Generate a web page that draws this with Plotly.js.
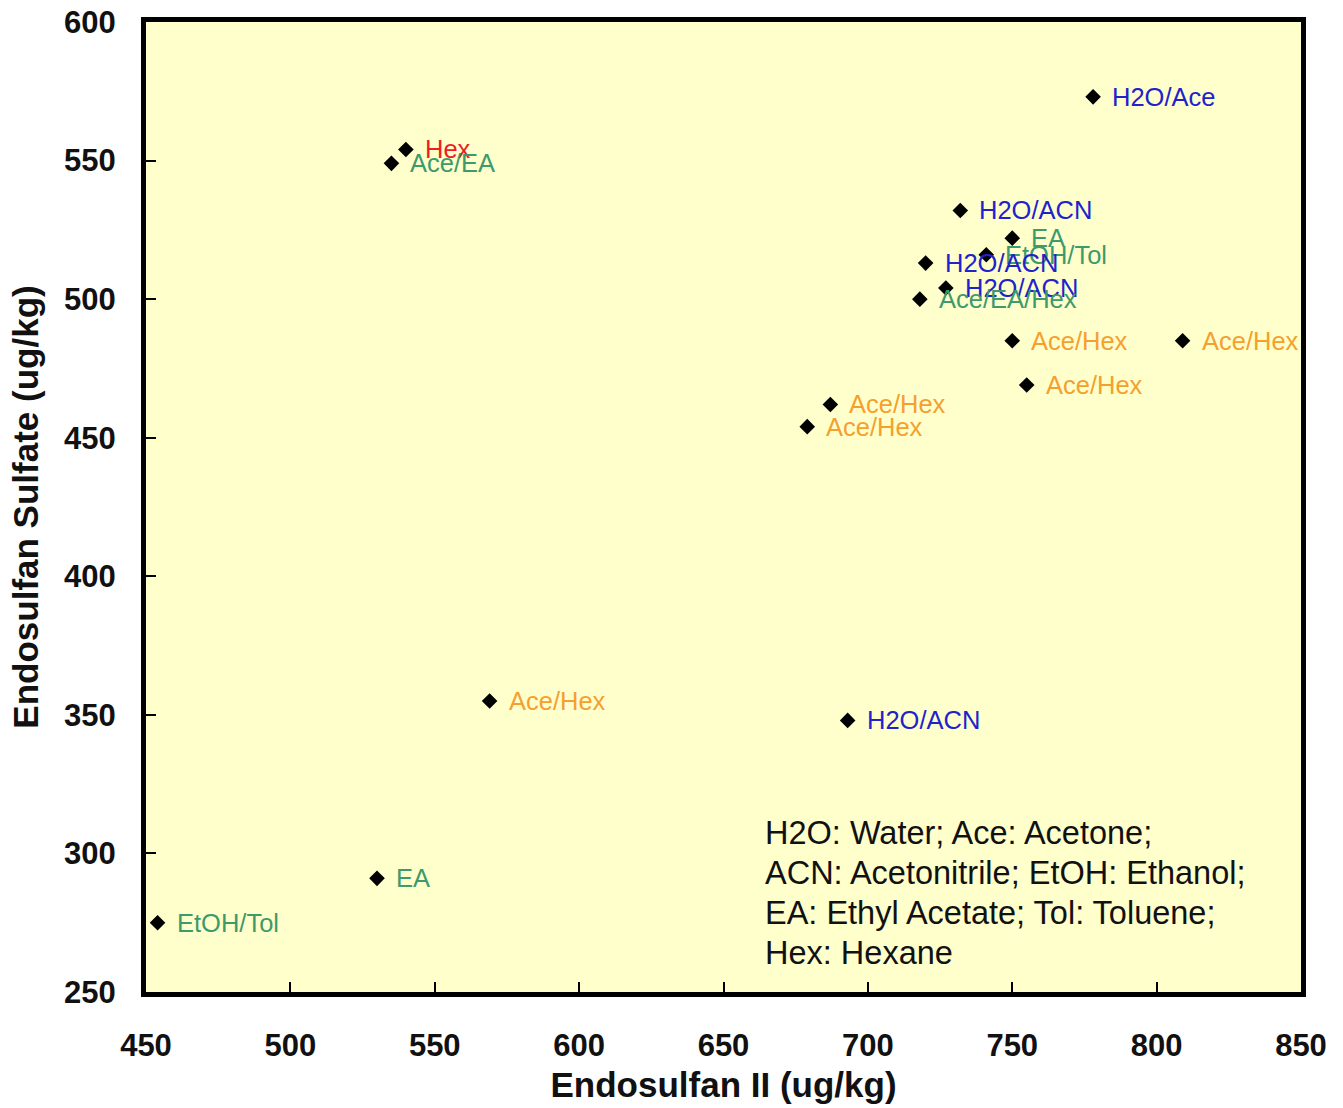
<!DOCTYPE html>
<html>
<head>
<meta charset="utf-8">
<script src="https://cdn.plot.ly/plotly-3.0.1.min.js"></script>
<style>html,body{margin:0;padding:0;background:#fff;}#chart{width:1343px;height:1108px;}</style>
</head>
<body>
<div id="chart"></div>
<script>
// Data
const endosulfanII = [778, 540, 535, 732, 750, 741, 720, 727, 718, 750, 809, 755, 687, 679, 569, 693, 530, 454];
const endosulfanSulfate = [573, 554, 549, 532, 522, 516, 513, 504, 500, 485, 485, 469, 462, 454, 355, 348, 291, 275];
const solventLabels = ["H2O/Ace", "Hex", "Ace/EA", "H2O/ACN", "EA", "EtOH/Tol", "H2O/ACN", "H2O/ACN", "Ace/EA/Hex",
  "Ace/Hex", "Ace/Hex", "Ace/Hex", "Ace/Hex", "Ace/Hex", "Ace/Hex", "H2O/ACN", "EA", "EtOH/Tol"];
const solventGroup = ["water", "hexane", "organic", "water", "organic", "organic", "water", "water", "organic",
  "acehex", "acehex", "acehex", "acehex", "acehex", "acehex", "water", "organic", "organic"];
const groupColors = {water: "#2222cc", hexane: "#ee1c25", organic: "#3c9a6c", acehex: "#f5a02e"};
const xTicks = [450, 500, 550, 600, 650, 700, 750, 800, 850];
const yTicks = [250, 300, 350, 400, 450, 500, 550, 600];
const footnoteLines = [
  "H2O: Water; Ace: Acetone;",
  "ACN: Acetonitrile; EtOH: Ethanol;",
  "EA: Ethyl Acetate; Tol: Toluene;",
  "Hex: Hexane"
];

const font = "Liberation Sans, Arial, sans-serif";

const trace = {
  x: endosulfanII,
  y: endosulfanSulfate,
  type: "scatter",
  mode: "markers",
  marker: {symbol: "diamond", size: 12, color: "#000"},
  hoverinfo: "x+y",
  showlegend: false
};

const annotations = endosulfanII.map((x, i) => ({
  x: x, y: endosulfanSulfate[i], xref: "x", yref: "y",
  text: solventLabels[i], showarrow: false,
  xanchor: "left", yanchor: "middle", xshift: 17,
  font: {family: font, size: 25.5, color: groupColors[solventGroup[i]]}
}));
footnoteLines.forEach((line, k) => {
  annotations.push({
    xref: "paper", yref: "paper", x: 0.5338, y: 0.1639 - k * 0.04124,
    xanchor: "left", yanchor: "middle", align: "left", showarrow: false,
    text: line,
    font: {family: font, size: 32.5, color: "#111"}
  });
});

const axisCommon = {
  showline: true, linewidth: 5, linecolor: "#000", mirror: true,
  ticks: "inside", ticklen: 10, tickwidth: 2, tickcolor: "#000",
  showgrid: false, zeroline: false,
  tickfont: {family: font, size: 31, color: "#111", weight: "bold"}
};

const layout = {
  width: 1343, height: 1108,
  margin: {l: 145.5, r: 41.5, t: 22, b: 116},
  paper_bgcolor: "#ffffff",
  plot_bgcolor: "#ffffcc",
  xaxis: Object.assign({}, axisCommon, {
    range: [450, 850], tickvals: xTicks, ticktext: xTicks.map(String),
    ticklabelstandoff: 22,
    title: {text: "Endosulfan II (ug/kg)", standoff: 12,
      font: {family: font, size: 35, color: "#111", weight: "bold"}}
  }),
  yaxis: Object.assign({}, axisCommon, {
    range: [250, 600], tickvals: yTicks, ticktext: yTicks.map(String),
    ticklabelstandoff: 19,
    title: {text: "Endosulfan Sulfate (ug/kg)", standoff: 16,
      font: {family: font, size: 35, color: "#111", weight: "bold"}}
  }),
  annotations: annotations
};

Plotly.newPlot("chart", [trace], layout, {displayModeBar: false, staticPlot: true});
</script>
</body>
</html>
